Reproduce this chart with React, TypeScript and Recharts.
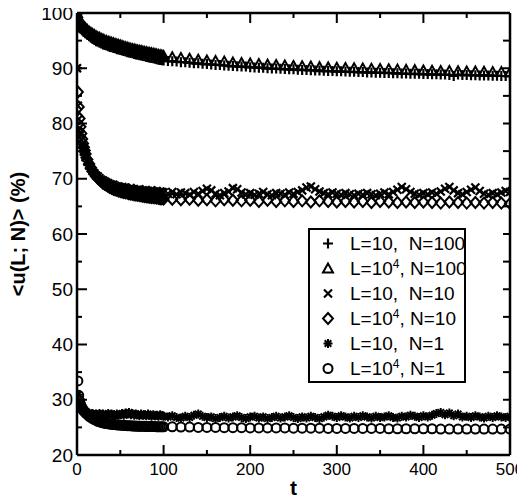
import React from 'react';
import { ScatterChart, Scatter, XAxis, YAxis, Label, CartesianGrid } from 'recharts';

// ---- sampling grids (t) ----
const T_EARLY = [0,1,2,3,4,5,6,7,8,9,10,12,14,16,18,20,22,24,26,28,30,32,34,36,38,40,42,44,46,48,50,52,54,56,58,60,62,64,66,68,70,72,74,76,78,80,82,84,86,88,90,92,94,96,98,100];
const T_LATE_10 = [110,120,130,140,150,160,170,180,190,200,210,220,230,240,250,260,270,280,290,300,310,320,330,340,350,360,370,380,390,400,410,420,430,440,450,460,470,480,490,500];
const T_LATE_5 = [105,110,115,120,125,130,135,140,145,150,155,160,165,170,175,180,185,190,195,200,205,210,215,220,225,230,235,240,245,250,255,260,265,270,275,280,285,290,295,300,305,310,315,320,325,330,335,340,345,350,355,360,365,370,375,380,385,390,395,400,405,410,415,420,425,430,435,440,445,450,455,460,465,470,475,480,485,490,495,500];

// ---- L=10, N=100 (+) ----
const P_EARLY = [90,98.4,98.0,97.7,97.4,97.2,97.0,96.8,96.6,96.5,96.3,96.0,95.8,95.5,95.3,95.1,94.9,94.8,94.6,94.5,94.3,94.2,94.1,94.0,93.85,93.8,93.65,93.6,93.45,93.4,93.3,93.2,93.1,93.05,92.9,92.85,92.75,92.7,92.6,92.5,92.45,92.35,92.3,92.2,92.15,92.05,92.0,91.9,91.85,91.8,91.7,91.65,91.55,91.5,91.45,91.4];
const P_LATE = [91.3,91.25,91.2,91.1,91.1,91.0,90.9,90.9,90.8,90.75,90.7,90.6,90.6,90.5,90.45,90.4,90.35,90.3,90.3,90.2,90.15,90.1,90.1,90.0,89.95,89.95,89.9,89.85,89.8,89.8,89.75,89.7,89.7,89.65,89.6,89.6,89.55,89.5,89.5,89.45,89.45,89.4,89.35,89.35,89.3,89.3,89.25,89.25,89.2,89.2,89.15,89.15,89.1,89.1,89.05,89.05,89.0,89.0,89.0,88.95,88.95,88.9,88.9,88.85,88.85,88.8,88.6,88.85,88.8,88.8,88.75,88.75,88.7,88.7,88.7,88.65,88.65,88.6,88.6,88.6];

// ---- L=10^4, N=100 (triangle) ----
const TRI_EARLY = [100,99.3,98.9,98.6,98.3,98.1,97.9,97.7,97.5,97.3,97.2,96.9,96.6,96.4,96.2,96.0,95.8,95.6,95.5,95.3,95.2,95.0,94.9,94.8,94.7,94.6,94.5,94.4,94.3,94.2,94.1,94.0,93.9,93.8,93.7,93.6,93.5,93.45,93.4,93.3,93.2,93.15,93.1,93.0,92.95,92.9,92.8,92.75,92.7,92.6,92.55,92.5,92.4,92.35,92.3,92.2];
const TRI_LATE = [92.0,91.85,91.7,91.55,91.4,91.3,91.2,91.05,90.95,90.85,90.75,90.65,90.6,90.5,90.4,90.35,90.3,90.2,90.15,90.1,90.05,90.0,89.95,89.9,89.85,89.8,89.75,89.7,89.65,89.6,89.55,89.5,89.5,89.45,89.4,89.4,89.35,89.3,89.3,89.25];

// ---- L=10, N=10 (x) ----
const X_EARLY = [90,83.2,80.8,79.2,78.0,77.0,76.2,75.5,74.9,74.4,73.9,73.1,72.4,71.9,71.4,71.0,70.6,70.4,70.1,69.8,69.7,69.5,69.3,69.2,69.0,68.9,68.9,68.7,68.6,68.6,68.4,68.5,68.3,68.4,68.2,68.1,68.3,68.0,68.1,67.9,68.0,68.1,67.8,67.9,67.7,67.9,67.8,67.6,67.9,67.7,67.6,67.8,67.5,67.7,67.6,67.5];
const X_LATE = [67.3,67.6,67.2,67.5,67.4,67.1,67.6,67.3,67.8,68.2,67.9,67.3,67.0,67.4,67.7,68.3,68.1,67.5,67.2,67.4,67.1,67.3,67.6,67.2,67.0,67.4,67.3,67.1,67.5,67.3,67.6,67.9,68.4,68.6,68.1,67.7,67.4,67.2,67.5,67.3,67.1,67.4,67.2,67.0,67.3,67.1,67.4,67.2,67.0,67.3,67.5,67.2,67.6,68.0,68.5,68.1,67.6,67.3,67.1,67.4,67.2,67.5,67.3,67.7,68.2,68.5,67.9,67.4,67.2,67.6,68.0,68.4,67.8,67.3,67.1,67.4,67.2,67.5,67.8,67.6];

// ---- L=10^4, N=10 (diamond) ----
const D_EARLY = [100,85.7,83.0,80.9,79.4,78.2,77.2,76.4,75.7,75.1,74.5,73.5,72.7,72.0,71.4,70.9,70.5,70.1,69.8,69.5,69.2,69.0,68.8,68.6,68.4,68.3,68.1,68.0,67.9,67.8,67.7,67.6,67.5,67.45,67.4,67.3,67.25,67.2,67.1,67.05,67.0,66.95,66.9,66.85,66.8,66.75,66.7,66.65,66.6,66.6,66.55,66.5,66.45,66.4,66.4,66.35];
const D_LATE = [66.3,66.2,66.3,66.1,66.2,66.0,66.2,66.1,66.0,66.1,65.9,66.1,65.9,66.0,65.9,66.0,65.8,66.0,65.9,65.8,65.9,65.8,65.9,65.7,65.9,65.8,65.7,65.8,65.7,65.8,65.7,65.6,65.8,65.7,65.6,65.7,65.6,65.7,65.6,65.5];

// ---- L=10, N=1 (*) ----
const S_EARLY = [90,30.9,29.6,29.0,28.6,28.3,28.1,27.9,27.8,27.7,27.6,27.5,27.6,27.4,27.5,27.3,27.4,27.2,27.5,27.3,27.4,27.2,27.3,27.5,27.2,27.4,27.3,27.1,27.4,27.2,27.3,27.5,27.2,27.6,27.4,27.7,27.3,27.5,27.2,27.4,27.3,27.1,27.4,27.2,27.3,27.1,27.4,27.2,27.0,27.3,27.1,27.2,27.0,27.3,27.1,27.0];
const S_LATE = [26.9,27.1,26.8,26.7,27.0,26.8,27.2,27.4,27.0,26.8,26.9,26.6,26.8,27.0,26.7,26.9,27.1,26.8,26.6,26.9,27.0,26.7,26.9,26.6,26.8,27.0,26.7,26.9,27.1,26.8,26.6,26.9,26.7,27.0,26.8,26.6,26.9,27.2,27.0,26.8,27.1,26.9,26.7,27.0,26.8,27.1,26.9,26.7,27.0,26.8,26.9,27.1,26.8,26.7,27.0,26.9,27.2,27.0,26.8,27.1,26.9,27.2,27.5,27.7,27.3,27.6,27.1,27.4,26.9,27.0,26.8,27.1,26.9,26.7,27.0,26.8,27.1,26.9,26.8,27.0];

// ---- L=10^4, N=1 (circle) ----
const C_EARLY = [100,33.4,30.8,29.8,29.2,28.8,28.5,28.2,28.0,27.8,27.6,27.3,27.0,26.8,26.6,26.4,26.3,26.1,26.0,25.9,25.8,25.75,25.7,25.65,25.6,25.55,25.5,25.5,25.45,25.45,25.4,25.4,25.35,25.35,25.3,25.3,25.3,25.25,25.25,25.25,25.2,25.2,25.2,25.2,25.2,25.15,25.15,25.15,25.15,25.15,25.15,25.1,25.1,25.1,25.1,25.1];
const C_LATE = [25.1,25.05,25.05,25.0,25.0,25.0,24.95,24.95,24.95,24.9,24.9,24.9,24.9,24.9,24.85,24.85,24.85,24.85,24.8,24.8,24.8,24.8,24.8,24.8,24.8,24.75,24.75,24.75,24.75,24.75,24.75,24.7,24.7,24.7,24.7,24.7,24.7,24.7,24.7,24.7];

// ---- axes ----
const X_DOMAIN = [0, 500];
const Y_DOMAIN = [20, 100];
const X_LABEL_TICKS = [0,100,200,300,400,500];
const X_MAJOR = [100,200,300,400];
const X_MINOR = [50,150,250,350,450];
const Y_LABEL_TICKS = [20,30,40,50,60,70,80,90,100];
const Y_MAJOR = [30,40,50,60,70,80,90];
const Y_MINOR = [25,35,45,55,65,75,85,95];

const FONT = '"Liberation Sans", Arial, Helvetica, sans-serif';

const zip = (ts: number[], vs: number[]) => ts.map((t, i) => ({ t, v: vs[i] }));

type Kind = 'plus' | 'tri' | 'cross' | 'diamond' | 'star' | 'circle';

function Marker({ kind, x, y }: { kind: Kind; x: number; y: number }) {
  const st = { stroke: '#000', fill: 'none' } as const;
  switch (kind) {
    case 'plus':
      return <path d={`M${x - 5},${y}H${x + 5}M${x},${y - 5}V${y + 5}`} {...st} strokeWidth={2.2} />;
    case 'tri':
      return <polygon points={`${x},${y - 5} ${x - 5},${y + 4} ${x + 5},${y + 4}`} {...st} strokeWidth={2} />;
    case 'cross':
      return <path d={`M${x - 4},${y - 4}L${x + 4},${y + 4}M${x + 4},${y - 4}L${x - 4},${y + 4}`} {...st} strokeWidth={2.2} />;
    case 'diamond':
      return <polygon points={`${x},${y - 5.5} ${x + 5},${y} ${x},${y + 5.5} ${x - 5},${y}`} {...st} strokeWidth={2} />;
    case 'star':
      return (
        <path
          d={`M${x - 4.5},${y}H${x + 4.5}M${x},${y - 4.5}V${y + 4.5}M${x - 3.3},${y - 3.3}L${x + 3.3},${y + 3.3}M${x + 3.3},${y - 3.3}L${x - 3.3},${y + 3.3}`}
          {...st}
          strokeWidth={2}
        />
      );
    case 'circle':
    default:
      return <circle cx={x} cy={y} r={4.5} {...st} strokeWidth={2} />;
  }
}

const SUP = { fontSize: 12, lineHeight: 0 } as const;

const SERIES: { key: string; kind: Kind; data: { t: number; v: number }[]; label: React.ReactNode }[] = [
  { key: 'p', kind: 'plus', data: [...zip(T_EARLY, P_EARLY), ...zip(T_LATE_5, P_LATE)], label: <>L=10,  N=100</> },
  { key: 'tri', kind: 'tri', data: [...zip(T_EARLY, TRI_EARLY), ...zip(T_LATE_10, TRI_LATE)], label: <>L=10<sup style={SUP}>4</sup>, N=100</> },
  { key: 'x', kind: 'cross', data: [...zip(T_EARLY, X_EARLY), ...zip(T_LATE_5, X_LATE)], label: <>L=10,  N=10</> },
  { key: 'd', kind: 'diamond', data: [...zip(T_EARLY, D_EARLY), ...zip(T_LATE_10, D_LATE)], label: <>L=10<sup style={SUP}>4</sup>, N=10</> },
  { key: 's', kind: 'star', data: [...zip(T_EARLY, S_EARLY), ...zip(T_LATE_5, S_LATE)], label: <>L=10,  N=1</> },
  { key: 'c', kind: 'circle', data: [...zip(T_EARLY, C_EARLY), ...zip(T_LATE_10, C_LATE)], label: <>L=10<sup style={SUP}>4</sup>, N=1</> },
];

// tick anchor points in data units (placed through the axis scales)
const BOTTOM_MINOR = X_MINOR.map((t) => ({ t, v: Y_DOMAIN[0] }));
const TOP_MAJOR = X_MAJOR.map((t) => ({ t, v: Y_DOMAIN[1] }));
const TOP_MINOR = X_MINOR.map((t) => ({ t, v: Y_DOMAIN[1] }));
const LEFT_MINOR = Y_MINOR.map((v) => ({ t: X_DOMAIN[0], v }));
const RIGHT_ALL = [...Y_MAJOR, ...Y_MINOR].map((v) => ({ t: X_DOMAIN[1], v }));

function LegendBox() {
  return (
    <div
      style={{
        position: 'absolute',
        left: 300,
        top: 220,
        boxSizing: 'border-box',
        width: 158,
        height: 155,
        border: '2px solid #000',
        background: '#fff',
        paddingTop: 1,
        fontFamily: FONT,
        fontSize: 19,
        color: '#000',
      }}
    >
      {SERIES.map((s) => (
        <div key={s.key} style={{ display: 'flex', alignItems: 'center', height: 25 }}>
          <svg width={40} height={25} style={{ flex: 'none' }}>
            <Marker kind={s.kind} x={18} y={12.5} />
          </svg>
          <span style={{ whiteSpace: 'pre', lineHeight: '20px' }}>{s.label}</span>
        </div>
      ))}
    </div>
  );
}

const axisLine = { stroke: '#000', strokeWidth: 2.5 };
const tickLine = { stroke: '#000', strokeWidth: 2 };
const tickShape = (dx: number, dy: number) => (p: any) => (
  <line x1={p.cx} y1={p.cy} x2={p.cx + dx} y2={p.cy + dy} stroke="#000" strokeWidth={2} />
);

export default function App() {
  return (
    <div style={{ position: 'relative', width: 517, height: 491 }}>
      <ScatterChart width={517} height={491} margin={{ top: 5, right: 15, left: 0, bottom: 0 }}>
        {/* top and right edges of the frame, from the chart's own plot offset */}
        <CartesianGrid
          stroke="#000"
          strokeWidth={2.5}
          horizontalCoordinatesGenerator={(p: any) => [p.offset.top]}
          verticalCoordinatesGenerator={(p: any) => [p.offset.left + p.offset.width]}
        />
        <XAxis
          dataKey="t"
          type="number"
          domain={X_DOMAIN}
          allowDataOverflow
          ticks={X_LABEL_TICKS}
          interval={0}
          height={44}
          tickLine={tickLine}
          tickSize={-10}
          tickMargin={18}
          axisLine={axisLine}
          tick={{ fill: '#000', fontSize: 17, fontFamily: FONT }}
        >
          <Label
            content={(p: any) => {
              const vb = p.viewBox || {};
              return (
                <text x={vb.x + vb.width / 2} y={vb.y + 40} textAnchor="middle" fontSize={21} fontWeight="bold" fontFamily={FONT} fill="#000">
                  t
                </text>
              );
            }}
          />
        </XAxis>

        <YAxis
          dataKey="v"
          type="number"
          domain={Y_DOMAIN}
          allowDataOverflow
          ticks={Y_LABEL_TICKS}
          interval={0}
          width={69}
          tickLine={tickLine}
          tickSize={-10}
          tickMargin={14}
          axisLine={axisLine}
          tick={{ fill: '#000', fontSize: 19, fontFamily: FONT }}
        >
          <Label
            content={(p: any) => {
              const vb = p.viewBox || {};
              const cx = vb.x + 10;
              const cy = vb.y + vb.height / 2;
              return (
                <text
                  x={cx}
                  y={cy}
                  transform={`rotate(-90 ${cx} ${cy})`}
                  textAnchor="middle"
                  dy="0.36em"
                  fontSize={20}
                  fontWeight="bold"
                  fontFamily={FONT}
                  fill="#000"
                >
                  {'<u(L; N)> (%)'}
                </text>
              );
            }}
          />
        </YAxis>

        {/* remaining inward ticks */}
        <Scatter data={BOTTOM_MINOR} shape={tickShape(0, -5)} isAnimationActive={false} />
        <Scatter data={TOP_MAJOR} shape={tickShape(0, 10)} isAnimationActive={false} />
        <Scatter data={TOP_MINOR} shape={tickShape(0, 5)} isAnimationActive={false} />
        <Scatter data={LEFT_MINOR} shape={tickShape(5, 0)} isAnimationActive={false} />
        <Scatter data={RIGHT_ALL} shape={tickShape(-7, 0)} isAnimationActive={false} />

        {SERIES.map((s) => (
          <Scatter
            key={s.key}
            data={s.data}
            isAnimationActive={false}
            shape={(props: any) => <Marker kind={s.kind} x={props.cx} y={props.cy} />}
          />
        ))}
      </ScatterChart>
      <LegendBox />
    </div>
  );
}
